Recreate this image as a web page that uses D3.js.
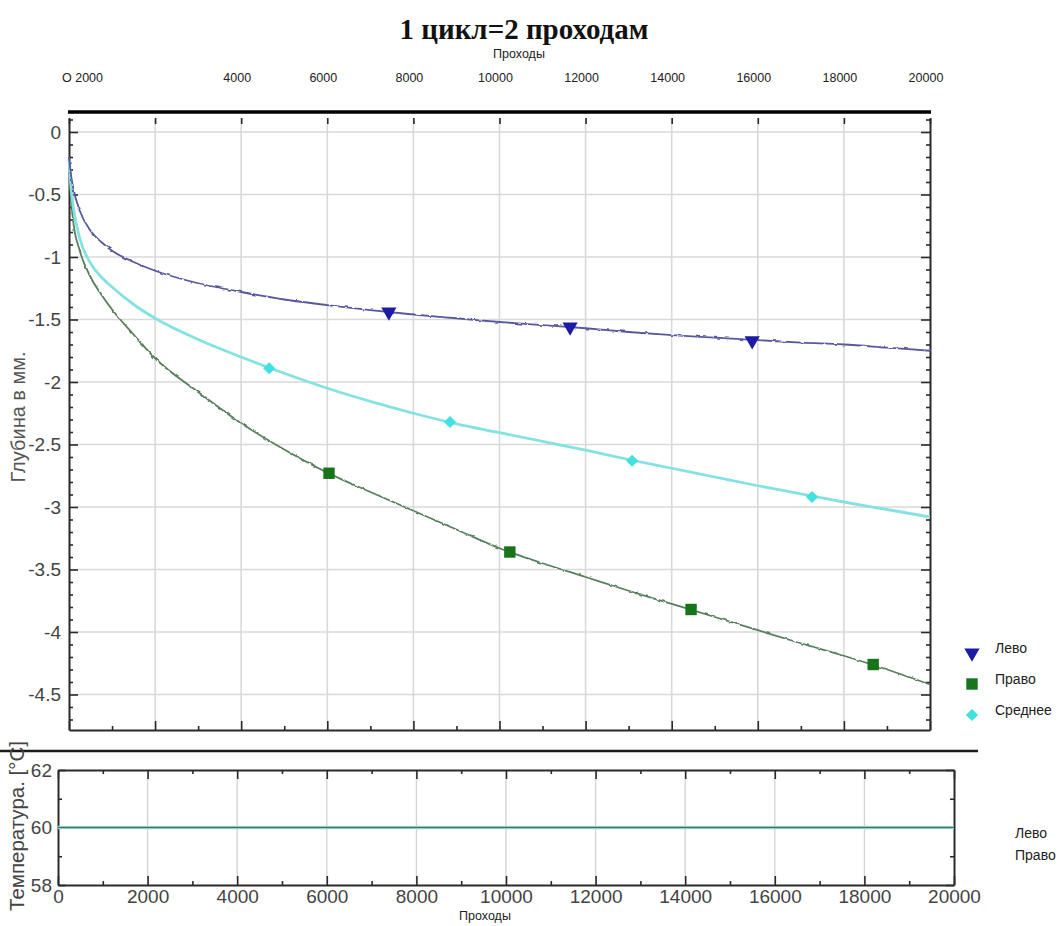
<!DOCTYPE html>
<html>
<head>
<meta charset="utf-8">
<script src="https://cdn.jsdelivr.net/npm/d3@7"></script>
<style>
  body { margin: 0; background: #fff; }
  svg  { display: block; font-family: "Liberation Sans", Arial, sans-serif; }
</style>
</head>
<body>
<svg id="chart" width="1060" height="926"></svg>
<script>
"use strict";

// ==========  Data  ==========
// passes (проходы) at which the depth curves were read off the picture
var passes     = [0, 50, 100, 250, 500, 750, 1000, 1500, 2000, 3000, 4000, 5000, 6000, 7000,
                  8000, 9000, 10000, 11000, 12000, 13000, 14000, 15000, 16000, 17000, 18000, 19000, 20000]
var depthLeft  = [-0.20, -0.35, -0.45, -0.63, -0.79, -0.88, -0.95, -1.04, -1.11, -1.21, -1.28, -1.34, -1.385, -1.425,
                  -1.46, -1.49, -1.52, -1.545, -1.57, -1.60, -1.625, -1.645, -1.665, -1.685, -1.70, -1.725, -1.75]
var depthRight = [-0.22, -0.55, -0.72, -0.95, -1.16, -1.30, -1.42, -1.62, -1.81, -2.08, -2.33, -2.54, -2.725, -2.88,
                  -3.03, -3.18, -3.33, -3.45, -3.56, -3.67, -3.775, -3.88, -3.985, -4.09, -4.19, -4.30, -4.42]
var depthMean  = [-0.22, -0.45, -0.60, -0.85, -1.05, -1.16, -1.24, -1.38, -1.49, -1.66, -1.80, -1.93, -2.05, -2.155,
                  -2.25, -2.335, -2.405, -2.475, -2.545, -2.62, -2.69, -2.76, -2.83, -2.895, -2.96, -3.02, -3.08]

// marker positions
var markLeftPasses  = [7430, 11640, 15870]
var markLeftDepth   = [-1.44, -1.56, -1.67]
var markRightPasses = [6040, 10240, 14450, 18680]
var markRightDepth  = [-2.73, -3.36, -3.82, -4.26]
var markMeanPasses  = [4650, 8850, 13080, 17260]
var markMeanDepth   = [-1.89, -2.32, -2.63, -2.92]

// temperature panel
var tempPasses = [0, 20000]
var tempLeft   = [60, 60]
var tempRight  = [60, 60]

// ticks and labels
var depthTicks    = [0, -0.5, -1, -1.5, -2, -2.5, -3, -3.5, -4, -4.5]
var passTicks     = [0, 2000, 4000, 6000, 8000, 10000, 12000, 14000, 16000, 18000, 20000]
var topTickValues = [0, 4000, 6000, 8000, 10000, 12000, 14000, 16000, 18000, 20000]
var topTickLabels = ["O 2000", "4000", "6000", "8000", "10000", "12000", "14000", "16000", "18000", "20000"]
var tempTicks     = [58, 60, 62]
var legendNames   = ["Лево", "Право", "Среднее"]
var tempLegend    = ["Лево", "Право"]


// ==========  Helpers  ==========
var svg = d3.select('#chart')
var narrow = '"Liberation Sans Narrow", "Arial Narrow", "Liberation Sans", Arial, sans-serif'

var styleAxis = function(g, labelSize, labelColor) {
  g.attr('font-family', narrow).attr('font-size', labelSize || 12)
  g.select('.domain').attr('stroke', '#2a2a2a').attr('stroke-width', 2)
  g.selectAll('.tick line').attr('stroke', '#2a2a2a').attr('stroke-width', 1.6)
  g.selectAll('.tick text').attr('fill', labelColor || '#444')
}
var minorsBetween = function(lo, hi, step, majorStep) {
  var out = []
  for(var v = lo; v <= hi + 1e-9; v += step) {
    var r = Math.round(v * 1000) / 1000
    if(Math.abs(r / majorStep - Math.round(r / majorStep)) > 1e-6) out.push(r)
  }
  return out
}

// slight roughness of the measured traces
var defs = svg.append('defs')
var filt = defs.append('filter').attr('id', 'jag')
  .attr('x', '-2%').attr('y', '-5%').attr('width', '104%').attr('height', '110%')
filt.append('feTurbulence').attr('type', 'fractalNoise').attr('baseFrequency', 0.18)
  .attr('numOctaves', 1).attr('seed', 4).attr('result', 'noise')
filt.append('feDisplacementMap').attr('in', 'SourceGraphic').attr('in2', 'noise')
  .attr('scale', 3).attr('xChannelSelector', 'R').attr('yChannelSelector', 'G')


// ==========  Titles  ==========
svg.append('text').attr('x', 524).attr('y', 39).attr('text-anchor', 'middle')
   .attr('font-family', '"Liberation Serif", "Times New Roman", serif')
   .attr('font-weight', 'bold').attr('font-size', 29).attr('fill', '#111')
   .text('1 цикл=2 проходам')
svg.append('text').attr('x', 519).attr('y', 58).attr('text-anchor', 'middle')
   .attr('font-size', 12.5).attr('fill', '#222').text('Проходы')


// ==========  Main panel  ==========
var x = d3.scaleLinear().domain([0, 20000]).range([69, 930])
var y = d3.scaleLinear().domain([-4.784, 0.112]).range([730, 118])

// grid
svg.append('g').selectAll('line').data(depthTicks).join('line')
   .attr('x1', x(0)).attr('x2', x(20000)).attr('y1', y).attr('y2', y)
   .attr('stroke', '#d9d9d9').attr('stroke-width', 1.6)
svg.append('g').selectAll('line').data(passTicks.slice(1, -1)).join('line')
   .attr('x1', x).attr('x2', x).attr('y1', y.range()[1]).attr('y2', y.range()[0])
   .attr('stroke', '#d9d9d9').attr('stroke-width', 1.6)

// top tick labels (uneven, as in the original)
svg.append('g').selectAll('text').data(topTickValues).join('text')
   .attr('x', function(d, i) { return i == 0 ? x(d) - 7 : x(d) - 4 })
   .attr('y', 82)
   .attr('text-anchor', function(d, i) { return i == 0 ? 'start' : 'middle' })
   .attr('font-size', 12.5).attr('fill', '#222')
   .text(function(d, i) { return topTickLabels[i] })

var yMinors = minorsBetween(-4.7, 0.1, 0.1, 0.5)
var xMinors = minorsBetween(1000, 19000, 1000, 2000)

svg.append('g').attr('transform', 'translate(' + x(0) + ',0)')
   .call(d3.axisLeft(y).tickValues(depthTicks).tickSize(-9).tickSizeOuter(0).tickPadding(8)
           .tickFormat(function(d) { return String(d) }))
   .call(styleAxis, 19, '#444')
svg.append('g').attr('transform', 'translate(' + x(0) + ',0)')
   .call(d3.axisLeft(y).tickValues(yMinors).tickSize(-4).tickSizeOuter(0).tickFormat(''))
   .call(styleAxis).select('.domain').remove()

svg.append('g').attr('transform', 'translate(' + x(20000) + ',0)')
   .call(d3.axisRight(y).tickValues(depthTicks).tickSize(-9).tickSizeOuter(0).tickFormat(''))
   .call(styleAxis)
svg.append('g').attr('transform', 'translate(' + x(20000) + ',0)')
   .call(d3.axisRight(y).tickValues(yMinors).tickSize(-4).tickSizeOuter(0).tickFormat(''))
   .call(styleAxis).select('.domain').remove()

svg.append('g').attr('transform', 'translate(0,' + y.range()[0] + ')')
   .call(d3.axisBottom(x).tickValues(passTicks).tickSize(-9).tickSizeOuter(0).tickFormat(''))
   .call(styleAxis)
svg.append('g').attr('transform', 'translate(0,' + y.range()[0] + ')')
   .call(d3.axisBottom(x).tickValues(xMinors).tickSize(-4).tickSizeOuter(0).tickFormat(''))
   .call(styleAxis).select('.domain').remove()

svg.append('g').attr('transform', 'translate(0,' + y.range()[1] + ')')
   .call(d3.axisTop(x).tickValues(passTicks).tickSize(-6).tickSizeOuter(0).tickFormat(''))
   .call(styleAxis).select('.domain').remove()

// thick rule above the plot
svg.append('line').attr('x1', x(0) - 1).attr('x2', x(20000) + 1).attr('y1', 112).attr('y2', 112)
   .attr('stroke', '#000').attr('stroke-width', 3.5)

// axis title
svg.append('text').attr('transform', 'translate(25,417) rotate(-90)').attr('text-anchor', 'middle')
   .attr('font-size', 20).attr('fill', '#555').text('Глубина в мм.')

// curves
var series = [
  { name: legendNames[1], values: depthRight, stroke: '#587f5e', width: 1.8, jag: true },
  { name: legendNames[2], values: depthMean,  stroke: '#84e2e2', width: 2.8, jag: false },
  { name: legendNames[0], values: depthLeft,  stroke: '#58589c', width: 1.8, jag: true }
]
var line = d3.line()
  .x(function(d, i) { return x(passes[i]) })
  .y(function(d) { return y(d) })
  .curve(d3.curveMonotoneX)

svg.append('g').selectAll('path').data(series).join('path')
   .attr('d', function(s) { return line(s.values) })
   .attr('fill', 'none')
   .attr('stroke', function(s) { return s.stroke })
   .attr('stroke-width', function(s) { return s.width })
   .attr('filter', function(s) { return s.jag ? 'url(#jag)' : null })

// markers
var symTri     = d3.symbol().type(d3.symbolTriangle).size(100)
var symSquare  = d3.symbol().type(d3.symbolSquare).size(130)
var symDiamond = d3.symbol().type(d3.symbolSquare).size(75)

var markerSets = [
  { passes: markLeftPasses,  depth: markLeftDepth,  path: symTri(),     rot: 180, fill: '#1b1ba3' },
  { passes: markRightPasses, depth: markRightDepth, path: symSquare(),  rot: 0,   fill: '#17741a' },
  { passes: markMeanPasses,  depth: markMeanDepth,  path: symDiamond(), rot: 45,  fill: '#43e0e0' }
]
markerSets.forEach(function(m) {
  svg.append('g').selectAll('path').data(m.passes).join('path')
     .attr('d', m.path)
     .attr('transform', function(d, i) {
       return 'translate(' + x(d) + ',' + y(m.depth[i]) + ') rotate(' + m.rot + ')'
     })
     .attr('fill', m.fill)
})

// legend
var legend = svg.append('g').attr('transform', 'translate(972,0)')
markerSets.forEach(function(m, i) {
  var ly = 650 + i * 31
  legend.append('path').attr('d', m.path)
        .attr('transform', 'translate(0,' + (ly + 3) + ') rotate(' + m.rot + ')')
        .attr('fill', m.fill)
  legend.append('text').attr('x', 23).attr('y', ly + 3).attr('font-size', 14).attr('fill', '#222')
        .text(legendNames[i])
})


// ==========  Separator  ==========
svg.append('line').attr('x1', 0).attr('x2', 978).attr('y1', 751).attr('y2', 751)
   .attr('stroke', '#1a1a1a').attr('stroke-width', 2.6)


// ==========  Temperature panel  ==========
var bx = d3.scaleLinear().domain([0, 20000]).range([58, 954])
var by = d3.scaleLinear().domain([58, 62]).range([885, 770])

svg.append('g').selectAll('line').data(passTicks.slice(1, -1)).join('line')
   .attr('x1', bx).attr('x2', bx).attr('y1', by(62)).attr('y2', by(58))
   .attr('stroke', '#d2d2d2').attr('stroke-width', 1.3)

var tMinors = [59, 61]

svg.append('g').attr('transform', 'translate(0,' + by(58) + ')')
   .call(d3.axisBottom(bx).tickValues(passTicks).tickSize(-9).tickSizeOuter(0).tickPadding(5)
           .tickFormat(function(d) { return String(d) }))
   .call(styleAxis, 19, '#444')
svg.append('g').attr('transform', 'translate(0,' + by(58) + ')')
   .call(d3.axisBottom(bx).tickValues(xMinors).tickSize(-4).tickSizeOuter(0).tickFormat(''))
   .call(styleAxis).select('.domain').remove()
svg.append('g').attr('transform', 'translate(0,' + by(62) + ')')
   .call(d3.axisTop(bx).tickValues(passTicks).tickSize(-9).tickSizeOuter(0).tickFormat(''))
   .call(styleAxis)
svg.append('g').attr('transform', 'translate(0,' + by(62) + ')')
   .call(d3.axisTop(bx).tickValues(xMinors).tickSize(-4).tickSizeOuter(0).tickFormat(''))
   .call(styleAxis).select('.domain').remove()

svg.append('g').attr('transform', 'translate(' + bx(0) + ',0)')
   .call(d3.axisLeft(by).tickValues(tempTicks).tickSize(-8).tickSizeOuter(0).tickPadding(6)
           .tickFormat(function(d) { return String(d) }))
   .call(styleAxis, 19, '#444')
svg.append('g').attr('transform', 'translate(' + bx(0) + ',0)')
   .call(d3.axisLeft(by).tickValues(tMinors).tickSize(-4).tickSizeOuter(0).tickFormat(''))
   .call(styleAxis).select('.domain').remove()
svg.append('g').attr('transform', 'translate(' + bx(20000) + ',0)')
   .call(d3.axisRight(by).tickValues(tempTicks).tickSize(-8).tickSizeOuter(0).tickFormat(''))
   .call(styleAxis)
svg.append('g').attr('transform', 'translate(' + bx(20000) + ',0)')
   .call(d3.axisRight(by).tickValues(tMinors).tickSize(-4).tickSizeOuter(0).tickFormat(''))
   .call(styleAxis).select('.domain').remove()

var tline = d3.line()
  .x(function(d, i) { return bx(tempPasses[i]) })
  .y(function(d) { return by(d) })
svg.append('path').attr('d', tline(tempLeft)).attr('fill', 'none')
   .attr('stroke', '#b5e6e0').attr('stroke-width', 3.5)
svg.append('path').attr('d', tline(tempRight)).attr('fill', 'none')
   .attr('stroke', '#3f7466').attr('stroke-width', 1.6)

svg.append('text').attr('transform', 'translate(24,826) rotate(-90)').attr('text-anchor', 'middle')
   .attr('font-size', 20.5).attr('fill', '#444').text('Температура. [°C]')
svg.append('text').attr('x', 485).attr('y', 920).attr('text-anchor', 'middle')
   .attr('font-size', 12.5).attr('fill', '#222').text('Проходы')

svg.append('g').selectAll('text').data(tempLegend).join('text')
   .attr('x', 1015).attr('y', function(d, i) { return 838 + i * 22 })
   .attr('font-size', 14).attr('fill', '#222').text(function(d) { return d })
</script>
</body>
</html>
